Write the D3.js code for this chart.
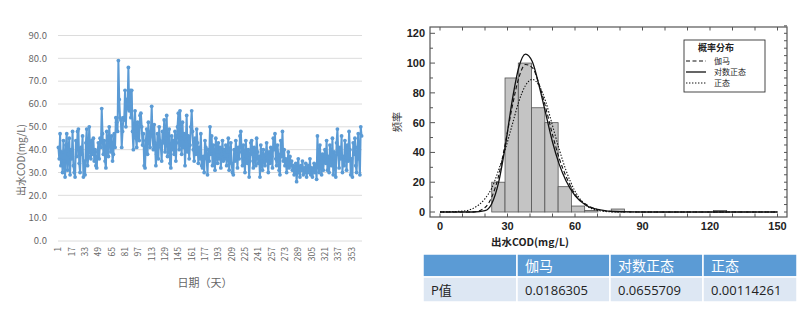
<!DOCTYPE html>
<html>
<head>
<meta charset="utf-8">
<script src="https://cdn.jsdelivr.net/npm/d3@7"></script>
<style>
  body { margin: 0; background: #fff; }
  svg { display: block; }
</style>
</head>
<body>
<div id="chart"></div>
<script>
const W = 800, H = 312;

// ---------------- data: daily effluent COD (mg/L) ----------------
const codA = [41, 36, 47, 33, 39, 30, 44, 35, 28, 42, 47, 31, 38, 45, 29, 40, 36, 48, 33, 30,
              28, 44, 37, 48, 49, 34, 30, 41, 38, 46, 28, 35, 29, 43, 49, 33, 37, 50, 41, 36];
const codB = [44, 38, 45, 35, 40, 33, 32, 39, 43, 36, 45, 41, 58, 47, 38, 44, 35, 32, 48, 42,
              37, 50, 44, 39, 46, 35, 38, 47, 41, 54, 52, 48];
const codC = [79, 62, 54, 53, 41, 48, 54, 53, 66, 50, 62, 58, 76, 57, 66, 54, 66, 48, 40, 51,
              57, 45, 41, 52, 47, 44, 55, 56];
const codD = [50, 42, 47, 33, 32, 44, 49, 38, 52, 45, 41, 48, 59, 46, 40, 51, 43, 33, 38, 47,
              36, 50, 44, 41, 35, 48, 43, 53, 39, 45, 55, 37, 42, 49, 34, 32, 46, 40, 44, 38];
const codE = [48, 35, 43, 50, 56, 40, 57, 45, 38, 52, 41, 47, 33, 44, 55, 39, 46, 36, 42, 50,
              57, 48, 40, 35, 45, 38, 49, 43, 34, 41, 36, 47, 33, 32, 37, 30, 44, 41, 36, 29,
              40, 35, 50, 38, 46, 33, 42, 37, 31, 45, 39, 34, 43, 36, 41, 32, 38, 44, 35, 40];
const codF = [36, 42, 33, 39, 45, 31, 37, 43, 34, 30, 29, 40, 35, 44, 38, 32, 41, 36, 46, 48,
              39, 33, 42, 36, 30, 44, 37, 34, 40, 28, 35, 43, 44, 38, 32, 41, 36, 33, 45, 39,
              34, 37, 28, 42, 35, 31, 40, 36, 33, 38, 43, 35, 30, 39, 34, 41, 37, 32, 45, 40,
              47, 36, 33, 42, 38, 31, 29, 44, 37, 48, 35, 40, 33, 36, 30, 34, 39, 32, 37, 33];
const codG = [35, 31, 33, 29, 30, 34, 26, 32, 36, 30, 28, 33, 31, 35, 29, 32, 30, 34, 28, 31,
              33, 30, 36, 29, 32, 28, 31, 34, 30, 33, 27, 46, 35, 30, 42, 33, 29, 38, 31, 36];
const codH = [40, 34, 44, 31, 37, 30, 42, 36, 33, 45, 29, 39, 35, 28, 43, 49, 38, 32, 41, 36,
              46, 30, 37, 33, 44, 39, 31, 42, 35, 48, 40, 29, 36, 28, 43, 38, 45, 33, 30, 41,
              47, 36, 29, 50, 46];
const codValues = [].concat(codA, codB, codC, codD, codE, codF, codG, codH);
const days = codValues.map((v, i) => i + 1);
const dayTicks = [1, 17, 33, 49, 65, 81, 97, 113, 129, 145, 161, 177, 193, 209, 225, 241,
                  257, 273, 289, 305, 321, 337, 353];
const codTicks = [0, 10, 20, 30, 40, 50, 60, 70, 80, 90];

// ---------------- data: histogram + fitted curves ----------------
const binWidth = 5.9;
const binLo    = [23, 28.9, 34.8, 40.7, 46.6, 52.5, 58.4, 64.3, 76.1, 121.5];
const binCount = [20, 90, 100, 70, 60, 17, 4, 1, 2, 1];
const curveX   = [0, 10, 15, 20, 23, 26, 29, 32, 35, 38, 41, 44, 47, 50, 53, 56, 60, 65, 70, 75, 80, 90, 150];
const gammaY   = [0, 0, 0.1, 3, 10, 24, 46, 70, 90, 99, 97, 86, 70, 52, 36, 24, 12, 5, 1.7, 0.5, 0.2, 0, 0];
const lognormY = [0, 0, 0, 0.9, 5.6, 19.5, 44, 74, 97, 106, 101, 85, 66, 47, 32, 21, 11, 4.4, 1.7, 0.6, 0.2, 0, 0];
const normalY  = [0, 0.6, 2.6, 9, 16, 28, 42, 58, 74, 85, 89, 85, 74, 58, 42, 28, 14, 4.4, 1.1, 0.2, 0, 0, 0];
const legendNames = ["伽马", "对数正态", "正态"];
const tableHead = ["", "伽马", "对数正态", "正态"];
const tableRow  = ["P值", "0.0186305", "0.0655709", "0.00114261"];

const svg = d3.select("#chart").append("svg")
    .attr("width", W)
    .attr("height", H)
    .style("font-family", "'Noto Sans CJK SC', 'Open Sans', sans-serif");

svg.append("rect").attr("width", W).attr("height", H).attr("fill", "#fff");

//-------------------------- LEFT: line chart --------------------------//
const blue = "#5b9bd5";
const x = d3.scaleBand().domain(days).range([58, 362]);
const xc = d => x(d) + x.bandwidth() / 2;
const y = d3.scaleLinear().domain([0, 90]).range([241, 35.5]);

const left = svg.append("g");

// gridlines
left.selectAll("line.grid")
    .data(codTicks)
    .join("line")
    .attr("class", "grid")
    .attr("x1", 58).attr("x2", 362)
    .attr("y1", d => y(d)).attr("y2", d => y(d))
    .attr("stroke", "#dcdcdc")
    .attr("stroke-width", 1);

left.selectAll("text.ylab")
    .data(codTicks)
    .join("text")
    .attr("class", "ylab")
    .attr("x", 47)
    .attr("y", d => y(d))
    .attr("dy", "0.35em")
    .attr("text-anchor", "end")
    .attr("fill", "#666")
    .style("font-size", "9.5px")
    .text(d => d.toFixed(1));

left.selectAll("text.xlab")
    .data(dayTicks)
    .join("text")
    .attr("class", "xlab")
    .attr("transform", d => `translate(${xc(d) + 3},247) rotate(-90)`)
    .attr("text-anchor", "end")
    .attr("fill", "#666")
    .style("font-size", "8.5px")
    .text(d => d);

const codLine = d3.line()
    .x((d, i) => xc(days[i]))
    .y(d => y(d));

left.append("path")
    .datum(codValues)
    .attr("d", codLine)
    .attr("fill", "none")
    .attr("stroke", blue)
    .attr("stroke-width", 2)
    .attr("stroke-linejoin", "round");

left.selectAll("circle.pt")
    .data(codValues)
    .join("circle")
    .attr("class", "pt")
    .attr("cx", (d, i) => xc(days[i]))
    .attr("cy", d => y(d))
    .attr("r", 1.9)
    .attr("fill", blue);

left.append("text")
    .attr("transform", "translate(25,160) rotate(-90)")
    .attr("text-anchor", "middle")
    .attr("fill", "#666")
    .style("font-size", "10px")
    .text("出水COD(mg/L)");

left.append("text")
    .attr("x", 205)
    .attr("y", 287)
    .attr("text-anchor", "middle")
    .attr("fill", "#666")
    .style("font-size", "11px")
    .text("日期（天）");

//-------------------------- RIGHT: histogram --------------------------//
const hx = d3.scaleLinear().domain([0, 150]).range([440, 777.5]);
const hy = d3.scaleLinear().domain([0, 120]).range([212, 33.3]);
const frame = {l: 430, r: 787, t: 27, b: 217};
const right = svg.append("g").style("font-family", "'Liberation Sans', Arial, sans-serif");

right.selectAll("rect.bin")
    .data(binLo)
    .join("rect")
    .attr("class", "bin")
    .attr("x", d => hx(d))
    .attr("width", d => hx(d + binWidth) - hx(d))
    .attr("y", (d, i) => hy(binCount[i]))
    .attr("height", (d, i) => hy(0) - hy(binCount[i]))
    .attr("fill", "#c4c4c4")
    .attr("stroke", "#555")
    .attr("stroke-width", 0.8);

const fitLine = d3.line()
    .x((d, i) => hx(curveX[i]))
    .y(d => hy(d))
    .curve(d3.curveMonotoneX);

const curves = [
    {vals: gammaY,   dash: "4,2.5", w: 1.1},
    {vals: lognormY, dash: null,    w: 1.3},
    {vals: normalY,  dash: "1.4,1.6", w: 1.1}
];
right.selectAll("path.fit")
    .data(curves)
    .join("path")
    .attr("class", "fit")
    .attr("d", d => fitLine(d.vals))
    .attr("fill", "none")
    .attr("stroke", "#111")
    .attr("stroke-width", d => d.w)
    .attr("stroke-dasharray", d => d.dash);

// frame
right.append("rect")
    .attr("x", frame.l).attr("y", frame.t)
    .attr("width", frame.r - frame.l).attr("height", frame.b - frame.t)
    .attr("fill", "none")
    .attr("stroke", "#555")
    .attr("stroke-width", 1.2);

// ticks pointing inward
const xMinor = d3.range(0, 151, 10);
right.selectAll("line.bt").data(xMinor).join("line")
    .attr("x1", d => hx(d)).attr("x2", d => hx(d))
    .attr("y1", frame.b).attr("y2", frame.b - 3.5)
    .attr("stroke", "#555");
right.selectAll("line.tt").data(xMinor).join("line")
    .attr("x1", d => hx(d)).attr("x2", d => hx(d))
    .attr("y1", frame.t).attr("y2", frame.t + 3.5)
    .attr("stroke", "#555");
right.selectAll("line.lt").data(d3.range(0, 121, 10)).join("line")
    .attr("x1", frame.l).attr("x2", d => frame.l + (d % 20 === 0 ? 5 : 3))
    .attr("y1", d => hy(d)).attr("y2", d => hy(d))
    .attr("stroke", "#555");
right.selectAll("line.rt").data(d3.range(0, 126, 5)).join("line")
    .attr("x1", frame.r).attr("x2", frame.r - 3)
    .attr("y1", d => hy(d)).attr("y2", d => hy(d))
    .attr("stroke", "#555");

right.selectAll("text.hy").data(d3.range(0, 121, 20)).join("text")
    .attr("class", "hy")
    .attr("x", 425)
    .attr("y", d => hy(d))
    .attr("dy", "0.36em")
    .attr("text-anchor", "end")
    .attr("fill", "#222")
    .style("font-size", "11px")
    .style("font-weight", "bold")
    .text(d => d);

right.selectAll("text.hx").data(d3.range(0, 151, 30)).join("text")
    .attr("class", "hx")
    .attr("x", d => hx(d))
    .attr("y", 230)
    .attr("text-anchor", "middle")
    .attr("fill", "#222")
    .style("font-size", "11px")
    .style("font-weight", "bold")
    .text(d => d);

right.append("text")
    .attr("x", 530)
    .attr("y", 246)
    .attr("text-anchor", "middle")
    .attr("fill", "#222")
    .style("font-size", "10.5px")
    .style("font-weight", "bold")
    .style("font-family", "'Noto Sans CJK SC', sans-serif")
    .text("出水COD(mg/L)");

right.append("text")
    .attr("transform", "translate(401,122) rotate(-90)")
    .attr("text-anchor", "middle")
    .attr("fill", "#333")
    .style("font-size", "10px")
    .style("font-family", "'Noto Sans CJK SC', sans-serif")
    .text("频率");

// legend
const lg = right.append("g").style("font-family", "'Noto Sans CJK SC', sans-serif");
lg.append("rect")
    .attr("x", 684).attr("y", 40)
    .attr("width", 81).attr("height", 52)
    .attr("fill", "#fff")
    .attr("stroke", "#333")
    .attr("stroke-width", 0.9);
lg.append("text")
    .attr("x", 716).attr("y", 48)
    .attr("dy", "0.35em")
    .attr("text-anchor", "middle")
    .attr("fill", "#222")
    .style("font-size", "9px")
    .style("font-weight", "bold")
    .text("概率分布");
legendNames.forEach((name, i) => {
    const yy = 61 + i * 11;
    lg.append("line")
        .attr("x1", 686).attr("x2", 706)
        .attr("y1", yy).attr("y2", yy)
        .attr("stroke", "#111")
        .attr("stroke-width", curves[i].w)
        .attr("stroke-dasharray", curves[i].dash);
    lg.append("text")
        .attr("x", 714).attr("y", yy)
        .attr("dy", "0.35em")
        .attr("fill", "#222")
        .style("font-size", "8px")
        .text(name);
});

//-------------------------- table --------------------------//
const colX = [423, 517, 610, 703, 797];
const tb = svg.append("g");
tableHead.forEach((t, i) => {
    tb.append("rect")
        .attr("x", colX[i]).attr("y", 254)
        .attr("width", colX[i + 1] - colX[i]).attr("height", 23)
        .attr("fill", "#5b9bd5")
        .attr("stroke", "#fff")
        .attr("stroke-width", 1.5);
    tb.append("rect")
        .attr("x", colX[i]).attr("y", 277)
        .attr("width", colX[i + 1] - colX[i]).attr("height", 25)
        .attr("fill", "#dde7f3")
        .attr("stroke", "#fff")
        .attr("stroke-width", 1.5);
    tb.append("text")
        .attr("x", colX[i] + 8).attr("y", 266)
        .attr("dy", "0.35em")
        .attr("fill", "#fff")
        .style("font-size", "14px")
        .style("font-family", "'Noto Sans CJK SC', sans-serif")
        .text(t);
    tb.append("text")
        .attr("x", colX[i] + 8).attr("y", 290)
        .attr("dy", "0.35em")
        .attr("fill", "#222")
        .style("font-size", "13px")
        .style("font-family", "'Open Sans', 'Noto Sans CJK SC', sans-serif")
        .text(tableRow[i]);
});
</script>
</body>
</html>
